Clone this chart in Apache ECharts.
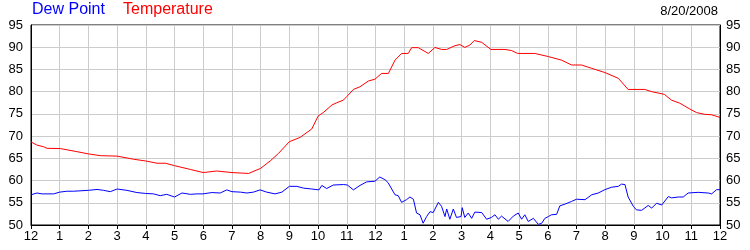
<!DOCTYPE html>
<html><head><meta charset="utf-8">
<script src="https://cdn.jsdelivr.net/npm/echarts@6/dist/echarts.min.js"></script>
<style>html,body{margin:0;padding:0;background:#fff}#c{width:750px;height:250px}</style>
</head><body><div id="c"></div>
<script>
const dateLabel = "8/20/2008";
const seriesNames = ["Dew Point", "Temperature"];
const tempHours = [0,0.2,0.44,0.56,1.02,1.6,2.0,2.41,3.0,3.57,4.0,4.39,4.68,5.0,5.55,6.0,6.47,7.0,7.58,8.0,8.33,8.62,9.0,9.37,9.78,10.0,10.2,10.48,10.65,10.88,11.0,11.23,11.46,11.75,11.98,12.21,12.45,12.68,12.91,13.14,13.26,13.49,13.84,14.07,14.3,14.48,14.77,14.94,15.11,15.29,15.44,15.7,16.02,16.51,16.74,16.95,17.55,18.02,18.48,18.83,19.18,19.53,19.99,20.46,20.8,21.38,21.62,22.06,22.31,22.6,22.95,23.18,23.47,23.71,24.0];
const tempValues = [68.7,68.0,67.6,67.25,67.2,66.5,66.0,65.6,65.5,64.8,64.4,63.9,63.9,63.35,62.5,61.8,62.15,61.8,61.6,62.75,64.4,66.1,68.75,69.7,71.6,74.5,75.4,77.0,77.5,78.1,78.9,80.5,81.1,82.4,82.8,84.1,84.1,87.1,88.6,88.6,89.9,89.9,88.6,89.95,89.5,89.5,90.35,90.6,89.95,90.5,91.5,91.1,89.5,89.5,89.25,88.6,88.6,87.9,87.1,86.0,86.0,85.25,84.3,83.0,80.5,80.5,80.0,79.4,78.1,77.4,76.1,75.3,74.9,74.8,74.2];
const dewHours = [0,0.21,0.38,0.79,1.0,1.25,1.48,2.0,2.3,2.53,2.76,3.0,3.34,3.69,3.99,4.27,4.5,4.73,5.0,5.26,5.55,5.78,5.99,6.3,6.59,6.82,7.0,7.29,7.52,7.75,7.98,8.21,8.5,8.74,9.0,9.26,9.49,9.78,10.03,10.13,10.3,10.53,10.88,11.02,11.23,11.46,11.69,11.98,12.15,12.33,12.44,12.5,12.68,12.79,12.91,13.08,13.2,13.32,13.43,13.55,13.66,13.78,13.9,14.01,14.19,14.3,14.42,14.48,14.59,14.71,14.82,14.98,15.02,15.11,15.23,15.35,15.46,15.7,15.87,16.04,16.16,16.28,16.39,16.62,16.8,16.97,17.09,17.2,17.32,17.5,17.67,17.79,17.9,18.02,18.13,18.31,18.42,18.6,18.83,19.0,19.3,19.53,19.76,19.99,20.22,20.46,20.57,20.69,20.8,20.98,21.09,21.27,21.5,21.62,21.79,21.97,22.2,22.31,22.55,22.72,22.89,23.24,23.59,23.71,23.88,24.0];
const dewValues = [56.8,57.2,57.0,57.0,57.4,57.6,57.6,57.8,58.0,57.8,57.5,58.1,57.8,57.3,57.1,57.0,56.6,56.9,56.3,57.2,56.9,57.0,57.0,57.3,57.2,57.9,57.5,57.4,57.2,57.4,57.9,57.4,57.0,57.4,58.7,58.7,58.3,58.1,57.9,58.9,58.2,59.0,59.1,59.0,57.9,58.9,59.7,59.85,60.8,60.2,59.5,59.85,56.8,56.6,55.1,55.7,56.3,55.8,52.7,52.3,50.4,51.9,53.0,52.8,55.1,54.2,51.9,53.6,51.3,53.6,51.7,51.9,53.9,51.7,52.7,51.5,52.9,52.8,51.3,51.7,52.3,51.3,52.0,50.8,52.0,52.7,51.3,52.3,50.8,51.5,50.15,50.4,51.5,51.9,52.3,52.4,54.3,54.7,55.3,55.8,55.7,56.8,57.2,57.95,58.5,58.7,59.2,59.1,56.3,54.2,53.4,53.3,54.4,53.8,54.9,54.5,56.4,56.1,56.3,56.3,57.2,57.35,57.2,57.0,57.95,57.95];

const font = '"Liberation Sans", Arial, sans-serif';
const pairs = (h, v) => h.map((t, i) => [t, v[i]]);
const hourLabel = h => String((h % 12) || 12);

const chart = echarts.init(document.getElementById('c'), null, {renderer: 'canvas'});
chart.setOption({
  animation: false,
  backgroundColor: '#fff',
  grid: {left: 31, right: 30, top: 25, bottom: 25, show: true, borderColor: '#000', borderWidth: 1, containLabel: false},
  title: [{
    left: 32, top: 2, padding: 0,
    text: seriesNames[0],
    textStyle: {color: '#0000ff', fontSize: 16, fontWeight: 'normal', fontFamily: font}
  }, {
    left: 123, top: 2, padding: 0,
    text: seriesNames[1],
    textStyle: {color: '#ff0000', fontSize: 16, fontWeight: 'normal', fontFamily: font}
  }, {
    right: 32, top: 5, padding: 0,
    text: dateLabel,
    textStyle: {color: '#000', fontSize: 13, fontWeight: 'normal', fontFamily: font}
  }],
  xAxis: {
    type: 'value', min: 0, max: 24, interval: 1,
    axisLine: {lineStyle: {color: '#000', width: 1}},
    axisTick: {show: true, length: 4, lineStyle: {color: '#000'}},
    axisLabel: {color: '#000', fontSize: 13, fontFamily: font, margin: 5, formatter: hourLabel, showMaxLabel: true, showMinLabel: true},
    splitLine: {show: true, lineStyle: {color: '#cccccc', width: 1}}
  },
  yAxis: [{
    type: 'value', min: 50, max: 95, interval: 5, position: 'left',
    axisLine: {show: true, lineStyle: {color: '#000', width: 1}},
    axisTick: {show: false},
    axisLabel: {color: '#000', fontSize: 13, fontFamily: font, margin: 8},
    splitLine: {show: true, lineStyle: {color: '#cccccc', width: 1}}
  }, {
    type: 'value', min: 50, max: 95, interval: 5, position: 'right',
    axisLine: {show: true, lineStyle: {color: '#000', width: 1}},
    axisTick: {show: false},
    axisLabel: {color: '#000', fontSize: 13, fontFamily: font, margin: 6},
    splitLine: {show: false}
  }],
  series: [{
    name: seriesNames[0], type: 'line', data: pairs(dewHours, dewValues),
    showSymbol: false, symbol: 'none', lineStyle: {color: '#0000ff', width: 1}, z: 3
  }, {
    name: seriesNames[1], type: 'line', data: pairs(tempHours, tempValues),
    showSymbol: false, symbol: 'none', lineStyle: {color: '#ff0000', width: 1}, z: 3
  }]
});
</script></body></html>
